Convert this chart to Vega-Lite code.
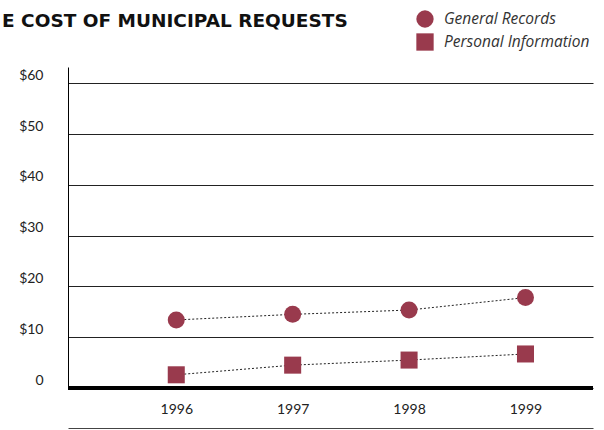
{
  "$schema": "https://vega.github.io/schema/vega-lite/v6.json",
  "width": 525,
  "height": 321,
  "autosize": {"type": "none"},
  "padding": {"left": 68, "top": 67, "right": 11, "bottom": 42},
  "background": "white",
  "title": {
    "text": "E COST OF MUNICIPAL REQUESTS",
    "anchor": "start",
    "frame": "group",
    "dx": -66,
    "offset": -20,
    "font": "DejaVu Sans",
    "fontSize": 18.5,
    "fontWeight": "bold",
    "color": "#111111"
  },
  "data": {
    "values": [
      {"year": 1996, "series": "General Records", "cost": 13.4},
      {"year": 1997, "series": "General Records", "cost": 14.5},
      {"year": 1998, "series": "General Records", "cost": 15.35},
      {"year": 1999, "series": "General Records", "cost": 17.8},
      {"year": 1996, "series": "Personal Information", "cost": 2.6},
      {"year": 1997, "series": "Personal Information", "cost": 4.5},
      {"year": 1998, "series": "Personal Information", "cost": 5.5},
      {"year": 1999, "series": "Personal Information", "cost": 6.7}
    ]
  },
  "config": {
    "view": {"stroke": null},
    "font": "Lato"
  },
  "encoding": {
    "x": {
      "field": "year",
      "type": "quantitative",
      "scale": {"domain": [1995.07, 1999.58], "nice": false, "zero": false},
      "axis": {
        "title": null,
        "values": [1996, 1997, 1998, 1999],
        "format": "d",
        "grid": false,
        "ticks": false,
        "offset": 40,
        "labelPadding": -26,
        "labelFont": "Lato",
        "labelFontSize": 14,
        "labelColor": "#222222",
        "domainColor": "#444444",
        "domainWidth": 1
      }
    },
    "y": {
      "field": "cost",
      "type": "quantitative",
      "scale": {"domain": [0, 63.2], "nice": false},
      "axis": {
        "title": null,
        "values": [0, 10, 20, 30, 40, 50, 60],
        "labelExpr": "datum.value == 0 ? '0' : '$' + datum.value",
        "ticks": false,
        "grid": true,
        "gridColor": "#222222",
        "gridWidth": 1,
        "gridOpacity": 1,
        "domainColor": "#000000",
        "domainWidth": 1,
        "labelPadding": 25,
        "labelOffset": -8,
        "labelFont": "Lato",
        "labelFontSize": 14,
        "labelColor": "#222222"
      }
    }
  },
  "layer": [
    {
      "mark": {"type": "rule", "color": "#000000", "strokeWidth": 3},
      "encoding": {"y": {"datum": 0}, "x": null}
    },
    {
      "mark": {"type": "line", "color": "#222222", "strokeWidth": 1, "strokeDash": [2, 2]},
      "encoding": {"detail": {"field": "series"}}
    },
    {
      "mark": {"type": "point", "filled": true, "opacity": 1, "size": 290},
      "encoding": {
        "shape": {
          "field": "series",
          "type": "nominal",
          "scale": {"domain": ["General Records", "Personal Information"], "range": ["circle", "square"]},
          "legend": {
            "title": null,
            "orient": "none",
            "legendX": 348,
            "legendY": -57,
            "symbolSize": 300,
            "symbolFillColor": "#993a4d",
            "symbolStrokeWidth": 0,
            "labelFont": "Open Sans",
            "labelFontSize": 15.5,
            "labelFontStyle": "italic",
            "labelColor": "#333333",
            "labelOffset": 10,
            "rowPadding": 5
          }
        },
        "color": {"value": "#993a4d"}
      }
    }
  ]
}
